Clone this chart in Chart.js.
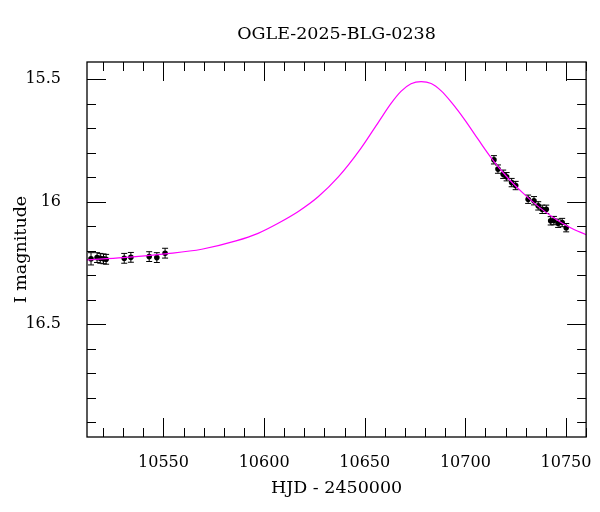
<!DOCTYPE html>
<html>
<head>
<meta charset="utf-8">
<script src="https://cdn.jsdelivr.net/npm/chart.js@4/dist/chart.umd.min.js"></script>
<style>
  html, body { margin: 0; padding: 0; background: #fff; }
  canvas { display: block; }
</style>
</head>
<body>
<canvas id="lc" width="600" height="512"></canvas>
<script>
// model curve
var curveHJD = [10512, 10530, 10552, 10569, 10586, 10597, 10607, 10617, 10627, 10637, 10647, 10657, 10663, 10668, 10673, 10678, 10683, 10688, 10693, 10699.7, 10706.3, 10713, 10720, 10728, 10736, 10744, 10752, 10760];
var curveMag = [16.237, 16.228, 16.212, 16.194, 16.160, 16.129, 16.088, 16.040, 15.979, 15.898, 15.795, 15.673, 15.600, 15.550, 15.519, 15.510, 15.518, 15.548, 15.594, 15.666, 15.745, 15.823, 15.893, 15.960, 16.018, 16.066, 16.105, 16.135];

// OGLE photometry
var obsHJD = [10514.0, 10517.0, 10518.6, 10520.2, 10521.5, 10530.5, 10533.8, 10542.9, 10546.7, 10550.8, 10714.2, 10716.2, 10718.8, 10720.5, 10723.0, 10725.0, 10731.2, 10734.1, 10736.2, 10738.2, 10740.2, 10742.4, 10744.0, 10746.1, 10748.1, 10750.1];
var obsMag = [16.233, 16.228, 16.231, 16.233, 16.235, 16.231, 16.227, 16.224, 16.228, 16.210, 15.829, 15.867, 15.888, 15.898, 15.922, 15.934, 15.990, 15.996, 16.017, 16.031, 16.031, 16.078, 16.077, 16.088, 16.085, 16.106];
var obsErr = [0.025, 0.02, 0.02, 0.02, 0.02, 0.02, 0.02, 0.02, 0.02, 0.02, 0.017, 0.017, 0.017, 0.017, 0.017, 0.017, 0.017, 0.017, 0.017, 0.017, 0.017, 0.017, 0.017, 0.017, 0.017, 0.017];

// ticks
var xMajor = [10550, 10600, 10650, 10700, 10750];
var xMinor = [10520, 10530, 10540, 10560, 10570, 10580, 10590, 10610, 10620, 10630, 10640, 10660, 10670, 10680, 10690, 10710, 10720, 10730, 10740, 10760];
var yMajor = [15.5, 16, 16.5];
var yMinor = [15.6, 15.7, 15.8, 15.9, 16.1, 16.2, 16.3, 16.4, 16.6, 16.7, 16.8, 16.9];

var FONT = "'DejaVu Serif', serif";

var errorBars = {
  id: "errorBars",
  beforeDatasetsDraw: function (chart) {
    var ctx = chart.ctx, xs = chart.scales.x, ys = chart.scales.y;
    ctx.save();
    ctx.strokeStyle = "#000";
    ctx.lineWidth = 1;
    ctx.beginPath();
    for (var i = 0; i < obsHJD.length; i++) {
      var px = xs.getPixelForValue(obsHJD[i]);
      var y1 = ys.getPixelForValue(obsMag[i] - obsErr[i]);
      var y2 = ys.getPixelForValue(obsMag[i] + obsErr[i]);
      ctx.moveTo(px, y1); ctx.lineTo(px, y2);
      ctx.moveTo(px - 3, y1); ctx.lineTo(px + 3, y1);
      ctx.moveTo(px - 3, y2); ctx.lineTo(px + 3, y2);
    }
    ctx.stroke();
    ctx.restore();
  }
};

var frame = {
  id: "frame",
  afterDraw: function (chart) {
    var ctx = chart.ctx, a = chart.chartArea;
    var xs = chart.scales.x, ys = chart.scales.y;
    ctx.save();
    ctx.strokeStyle = "#000";
    ctx.lineWidth = 1;
    ctx.beginPath();
    function xt(v, len) {
      var p = Math.round(xs.getPixelForValue(v)) + 0.5;
      ctx.moveTo(p, a.bottom); ctx.lineTo(p, a.bottom - len);
      ctx.moveTo(p, a.top); ctx.lineTo(p, a.top + len);
    }
    function yt(v, len) {
      var p = Math.round(ys.getPixelForValue(v)) + 0.5;
      ctx.moveTo(a.left, p); ctx.lineTo(a.left + len, p);
      ctx.moveTo(a.right, p); ctx.lineTo(a.right - len, p);
    }
    xMajor.forEach(function (v) { xt(v, 19); });
    xMinor.forEach(function (v) { xt(v, 9); });
    yMajor.forEach(function (v) { yt(v, 19); });
    yMinor.forEach(function (v) { yt(v, 9); });
    ctx.stroke();
    ctx.lineWidth = 1.3;
    ctx.strokeRect(a.left, a.top, a.right - a.left, a.bottom - a.top);
    ctx.restore();
  }
};

new Chart(document.getElementById("lc"), {
  type: "scatter",
  data: {
    datasets: [
      {
        data: curveHJD.map(function (x, i) { return { x: x, y: curveMag[i] }; }),
        showLine: true,
        borderColor: "#ff00ff",
        borderWidth: 1.2,
        pointRadius: 0,
        cubicInterpolationMode: "monotone",
        fill: false
      },
      {
        data: obsHJD.map(function (x, i) { return { x: x, y: obsMag[i] }; }),
        pointRadius: 2.8,
        backgroundColor: "#000",
        borderColor: "#000",
        borderWidth: 0
      }
    ]
  },
  options: {
    responsive: false,
    animation: false,
    layout: { padding: { left: 0, right: 13, top: 0, bottom: 0 } },
    plugins: {
      legend: { display: false },
      tooltip: { enabled: false },
      title: {
        display: true,
        text: "OGLE-2025-BLG-0238",
        color: "#000",
        fullSize: false,
        font: { family: FONT, size: 17.5, weight: "normal" },
        padding: { top: 24, bottom: 17 }
      }
    },
    scales: {
      x: {
        type: "linear",
        position: "bottom",
        min: 10512,
        max: 10760,
        grid: { display: false },
        border: { display: false },
        afterBuildTicks: function (sc) { sc.ticks = xMajor.map(function (v) { return { value: v }; }); },
        afterFit: function (sc) { sc.height = 75; },
        ticks: {
          color: "#000",
          font: { family: FONT, size: 16 },
          padding: 8,
          maxRotation: 0,
          autoSkip: false,
          callback: function (v) { return String(v); }
        },
        title: {
          display: true,
          text: "HJD - 2450000",
          color: "#000",
          font: { family: FONT, size: 17.5 },
          padding: { top: 0, bottom: 13 }
        }
      },
      y: {
        type: "linear",
        reverse: true,
        min: 15.43,
        max: 16.96,
        grid: { display: false },
        border: { display: false },
        afterBuildTicks: function (sc) { sc.ticks = yMajor.map(function (v) { return { value: v }; }); },
        afterFit: function (sc) { sc.width = 87; },
        ticks: {
          color: "#000",
          font: { family: FONT, size: 16 },
          padding: 18,
          autoSkip: false,
          callback: function (v) { return String(v); }
        },
        title: {
          display: true,
          text: "I magnitude",
          color: "#000",
          font: { family: FONT, size: 17.5 },
          padding: { top: 11, bottom: 0 }
        }
      }
    }
  },
  plugins: [errorBars, frame]
});
</script>
</body>
</html>
